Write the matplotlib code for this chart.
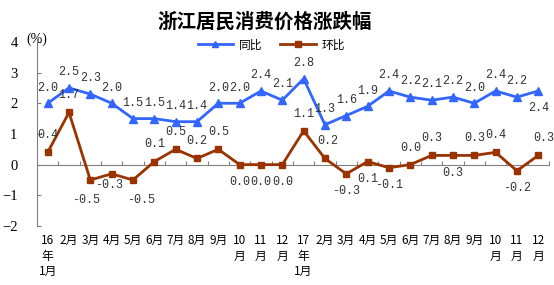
import matplotlib
matplotlib.use("Agg")
import matplotlib.pyplot as plt
from matplotlib.lines import Line2D

plt.rcParams['font.family'] = ['Noto Sans CJK SC', 'DejaVu Sans']

months = ["16\n年\n1月", "2月", "3月", "4月", "5月", "6月", "7月", "8月", "9月", "10\n月", "11\n月", "12\n月",
          "17\n年\n1月", "2月", "3月", "4月", "5月", "6月", "7月", "8月", "9月", "10\n月", "11\n月", "12\n月"]
yoy = [2.0, 2.5, 2.3, 2.0, 1.5, 1.5, 1.4, 1.4, 2.0, 2.0, 2.4, 2.1,
       2.8, 1.3, 1.6, 1.9, 2.4, 2.2, 2.1, 2.2, 2.0, 2.4, 2.2, 2.4]
mom = [0.4, 1.7, -0.5, -0.3, -0.5, 0.1, 0.5, 0.2, 0.5, 0.0, 0.0, 0.0,
       1.1, 0.2, -0.3, 0.1, -0.1, 0.0, 0.3, 0.3, 0.3, 0.4, -0.2, 0.3]
yticks = [-2, -1, 0, 1, 2, 3, 4]

# label offsets in points (style only)
mom_off = [(0, 8), (0, 8), (-3, -10), (-2, -4), (6, -10), (0, 8), (0, 8), (0, 8), (0, 8), (0, -8), (0, -8), (0, -8),
           (0, 8), (2, 8), (0, -8), (0, -8), (0, -8), (0, 8), (0, 8), (0, -8), (0, 8), (0, 8), (0, -8), (4, 8)]
yoy_off = [(0, 7)] * 23 + [(0, -8)]

blue = "#3366FF"
brown = "#993300"
numfont = "Liberation Mono"

fig = plt.figure(figsize=(5.54, 2.85), dpi=100)
ax = fig.add_axes([0.0668, 0.207, 0.924, 0.646])
x = list(range(len(months)))

ax.plot(x, yoy, color=blue, lw=2, marker="^", ms=6, zorder=3)
ax.plot(x, mom, color=brown, lw=2, marker="s", ms=5, zorder=3)

for i, (v, o) in enumerate(zip(yoy, yoy_off)):
    ax.annotate(f"{v:.1f}", (i, v), xytext=o, textcoords="offset points",
                ha="center", va="bottom" if o[1] > 0 else "top", fontsize=8.5, family=numfont, color="#333333")
for i, (v, o) in enumerate(zip(mom, mom_off)):
    ax.annotate(f"{v:.1f}", (i, v), xytext=o, textcoords="offset points",
                ha="center", va="bottom" if o[1] > 0 else "top", fontsize=8.5, family=numfont, color="#333333")

ax.set_xlim(-0.5, len(months) - 0.5)
ax.set_ylim(-2, 4)
ax.set_yticks(yticks)
ax.set_yticklabels([str(t).replace("-", "\u2212") for t in yticks], family="Liberation Serif", fontsize=10.5)
ax.tick_params(axis="y", direction="in", length=3, color="#808080", pad=14)
ax.set_xticks(x)
ax.set_xticklabels(months, fontsize=8.5, linespacing=1.25, va="top")
ax.tick_params(axis="x", length=0, pad=6)
for s in ["top", "right", "bottom"]:
    ax.spines[s].set_visible(False)
ax.spines["left"].set_color("#808080")

sec = ax.secondary_xaxis(1 / 3)
sec.set_xticks([i + 0.5 for i in x])
sec.tick_params(axis="x", direction="in", length=3, color="#808080", labelbottom=False, labeltop=False)
sec.set_xticklabels([])
sec.spines["bottom"].set_color("#808080")

ax.text(-0.5, 4.1, "(%)", fontsize=10, family="Liberation Serif", ha="center", va="center")

fig.text(0.478, 0.923, "浙江居民消费价格涨跌幅", ha="center", va="center", fontsize=14, fontweight="bold")
handles = [Line2D([], [], color=blue, lw=2, marker="^", ms=5),
           Line2D([], [], color=brown, lw=2, marker="s", ms=4)]
fig.legend(handles, ["同比", "环比"], loc="center", bbox_to_anchor=(0.49, 0.842), ncol=2, frameon=False,
           fontsize=8.5, handlelength=3, columnspacing=1.5, handletextpad=0.5)

fig.savefig("out.png", dpi=100)
